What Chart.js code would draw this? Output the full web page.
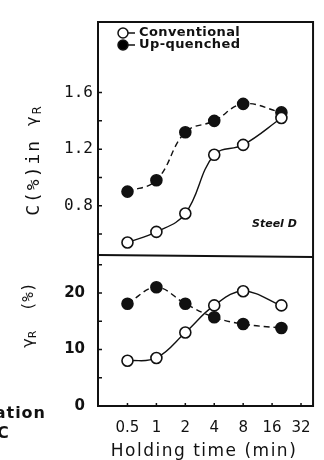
<!DOCTYPE html>
<html>
<head>
<meta charset="utf-8">
<script src="https://cdn.jsdelivr.net/npm/chart.js@4.4.1/dist/chart.umd.min.js"></script>
<style>
  html, body { margin: 0; padding: 0; background: #fff; }
  canvas { display: block; }
</style>
</head>
<body>
<canvas id="steelChart" width="324" height="460"></canvas>
<script>
// holding time at temperature (min), log2 axis
const holdingTime = [0.5, 1, 2, 4, 8, 20];

// carbon content in retained austenite (%)
const carbonConventional = [0.54, 0.615, 0.745, 1.16, 1.23, 1.42];
const carbonUpQuenched = [0.90, 0.98, 1.32, 1.40, 1.52, 1.46];

// amount of retained austenite (%)
const austeniteConventional = [8.0, 8.5, 13.0, 17.8, 20.3, 17.8];
const austeniteUpQuenched = [18.1, 21.0, 18.1, 15.7, 14.5, 13.8];

const xTicks = [0.5, 1, 2, 4, 8, 16, 32];
const xTickLabels = ['0.5', '1', '2', '4', '8', '16', '32'];
const carbonTicks = [0.6, 0.8, 1.0, 1.2, 1.4, 1.6];
const carbonTickLabels = ['', '0.8', '', '1.2', '', '1.6'];
const austeniteTicks = [0, 5, 10, 15, 20, 25];
const austeniteTickLabels = ['0', '', '10', '', '20', ''];

const INK = '#111';

function pts(ys) {
    return holdingTime.map((t, i) => ({ x: t, y: ys[i] }));
}

// draws text rotated -90deg, centred on (cx, cy); parts may shift off the baseline
function drawVertical(ctx, parts, cx, cy, spacing) {
    ctx.save();
    ctx.translate(cx, cy);
    ctx.rotate(-Math.PI / 2);
    ctx.letterSpacing = (spacing || 0) + 'px';
    let total = 0;
    parts.forEach(p => { ctx.font = p.font; total += ctx.measureText(p.text).width; });
    let x = -total / 2;
    ctx.textBaseline = 'middle';
    ctx.textAlign = 'left';
    ctx.fillStyle = INK;
    parts.forEach(p => {
        ctx.font = p.font;
        ctx.fillText(p.text, x, p.dy || 0);
        x += ctx.measureText(p.text).width;
    });
    ctx.restore();
}

const framePlugin = {
    id: 'frame',
    afterDraw(chart) {
        const ctx = chart.ctx;
        const a = chart.chartArea;
        const x = chart.scales.x;
        const yC = chart.scales.yC;
        const yR = chart.scales.yR;

        ctx.save();
        ctx.strokeStyle = INK;
        ctx.lineWidth = 2;
        ctx.strokeRect(a.left, a.top, a.right - a.left, a.bottom - a.top);
        ctx.beginPath();
        ctx.moveTo(a.left, yC.bottom);
        ctx.lineTo(a.right, yC.bottom + 2);
        ctx.stroke();

        // inward tick marks
        ctx.lineWidth = 1.5;
        ctx.beginPath();
        carbonTicks.forEach(v => {
            const py = yC.getPixelForValue(v);
            ctx.moveTo(a.left, py);
            ctx.lineTo(a.left + 4, py);
        });
        austeniteTicks.forEach(v => {
            if (v === 0) return;
            const py = yR.getPixelForValue(v);
            ctx.moveTo(a.left, py);
            ctx.lineTo(a.left + 4, py);
        });
        xTicks.forEach(v => {
            const px = x.getPixelForValue(v);
            ctx.moveTo(px, a.bottom);
            ctx.lineTo(px, a.bottom - 3);
        });
        ctx.stroke();

        // legend
        const legend = [
            { label: 'Conventional', fill: '#fff', y: 33 },
            { label: 'Up-quenched', fill: '#000', y: 45 }
        ];
        legend.forEach(l => {
            ctx.beginPath();
            ctx.moveTo(124, l.y);
            ctx.lineTo(135, l.y);
            ctx.lineWidth = 1.5;
            ctx.stroke();
            ctx.beginPath();
            ctx.arc(123, l.y, 5, 0, Math.PI * 2);
            ctx.fillStyle = l.fill;
            ctx.fill();
            ctx.stroke();
            ctx.fillStyle = INK;
            ctx.font = 'bold 13px "DejaVu Sans"';
            ctx.letterSpacing = '0.4px';
            ctx.textBaseline = 'middle';
            ctx.textAlign = 'left';
            ctx.fillText(l.label, 139, l.y);
        });

        ctx.letterSpacing = '0px';
        ctx.font = 'italic bold 11px "DejaVu Sans"';
        ctx.fillText('Steel D', 252, 224);

        // axis titles
        drawVertical(ctx, [
            { text: 'C(%)in ', font: '18px "DejaVu Sans Mono"' },
            { text: 'γ', font: '16px "DejaVu Sans"', dy: -1 },
            { text: 'R', font: '12px "DejaVu Sans"', dy: 4 }
        ], 34, 160, 2);
        drawVertical(ctx, [
            { text: 'γ', font: '16px "DejaVu Sans"' },
            { text: 'R', font: '11px "DejaVu Sans"', dy: 4 },
            { text: '  (%)', font: '16px "DejaVu Sans Mono"' }
        ], 29, 315, 0);

        ctx.font = '17px "DejaVu Sans"';
        ctx.letterSpacing = '1.5px';
        ctx.textAlign = 'center';
        ctx.textBaseline = 'middle';
        ctx.fillText('Holding time (min)', 204, 452);

        // clipped caption from the neighbouring figure
        ctx.letterSpacing = '1px';
        ctx.textAlign = 'right';
        ctx.font = 'bold 16px "DejaVu Sans"';
        ctx.fillText('ation', 46, 414);
        ctx.textAlign = 'left';
        ctx.fillText('°C', -12, 434);
        ctx.restore();
    }
};

new Chart(document.getElementById('steelChart'), {
    type: 'line',
    data: {
        datasets: [
            {
                label: 'Conventional',
                data: pts(carbonConventional),
                yAxisID: 'yC',
                borderColor: INK,
                borderWidth: 1.4,
                tension: 0.4,
                pointRadius: 5.5,
                pointBorderWidth: 1.6,
                pointBackgroundColor: '#fff',
                pointBorderColor: INK
            },
            {
                label: 'Conventional',
                data: pts(austeniteConventional),
                yAxisID: 'yR',
                borderColor: INK,
                borderWidth: 1.4,
                tension: 0.4,
                pointRadius: 5.5,
                pointBorderWidth: 1.6,
                pointBackgroundColor: '#fff',
                pointBorderColor: INK
            },
            {
                label: 'Up-quenched',
                data: pts(carbonUpQuenched),
                yAxisID: 'yC',
                borderColor: INK,
                borderWidth: 1.4,
                borderDash: [6, 4],
                tension: 0.4,
                pointRadius: 5.5,
                pointBorderWidth: 1.6,
                pointBackgroundColor: INK,
                pointBorderColor: INK
            },
            {
                label: 'Up-quenched',
                data: pts(austeniteUpQuenched),
                yAxisID: 'yR',
                borderColor: INK,
                borderWidth: 1.4,
                borderDash: [6, 4],
                tension: 0.4,
                pointRadius: 5.5,
                pointBorderWidth: 1.6,
                pointBackgroundColor: INK,
                pointBorderColor: INK
            }
        ]
    },
    options: {
        responsive: false,
        animation: false,
        devicePixelRatio: 1,
        layout: { padding: { top: 9, right: 8, left: 0, bottom: 0 } },
        plugins: {
            legend: { display: false },
            tooltip: { enabled: false }
        },
        scales: {
            x: {
                type: 'logarithmic',
                min: 0.2467,
                max: 42.7,
                afterFit: s => { s.height = 54; },
                afterBuildTicks: s => { s.ticks = xTicks.map(v => ({ value: v })); },
                grid: { display: false, drawTicks: false },
                border: { display: false },
                ticks: {
                    autoSkip: false,
                    maxRotation: 0,
                    padding: 13,
                    color: INK,
                    font: { family: 'DejaVu Sans', size: 15 },
                    callback: (v, i) => xTickLabels[i]
                }
            },
            // stacked axes are laid out bottom-up: yR (lower panel) first
            yR: {
                type: 'linear',
                position: 'left',
                stack: 'panel',
                stackWeight: 156,
                min: 0,
                max: 26.7,
                afterFit: s => { s.width = 98; },
                afterBuildTicks: s => { s.ticks = austeniteTicks.map(v => ({ value: v })); },
                grid: { display: false, drawTicks: false },
                border: { display: false },
                ticks: {
                    autoSkip: false,
                    padding: 13,
                    color: INK,
                    font: { family: 'DejaVu Sans', size: 15, weight: 'bold' },
                    callback: (v, i) => austeniteTickLabels[i]
                }
            },
            yC: {
                type: 'linear',
                position: 'left',
                stack: 'panel',
                stackWeight: 241,
                min: 0.451,
                max: 2.099,
                afterFit: s => { s.width = 98; },
                afterBuildTicks: s => { s.ticks = carbonTicks.map(v => ({ value: v })); },
                grid: { display: false, drawTicks: false },
                border: { display: false },
                ticks: {
                    autoSkip: false,
                    padding: 5,
                    color: INK,
                    font: { family: 'DejaVu Sans Mono', size: 16 },
                    callback: (v, i) => carbonTickLabels[i]
                }
            }
        }
    },
    plugins: [framePlugin]
});
</script>
</body>
</html>
